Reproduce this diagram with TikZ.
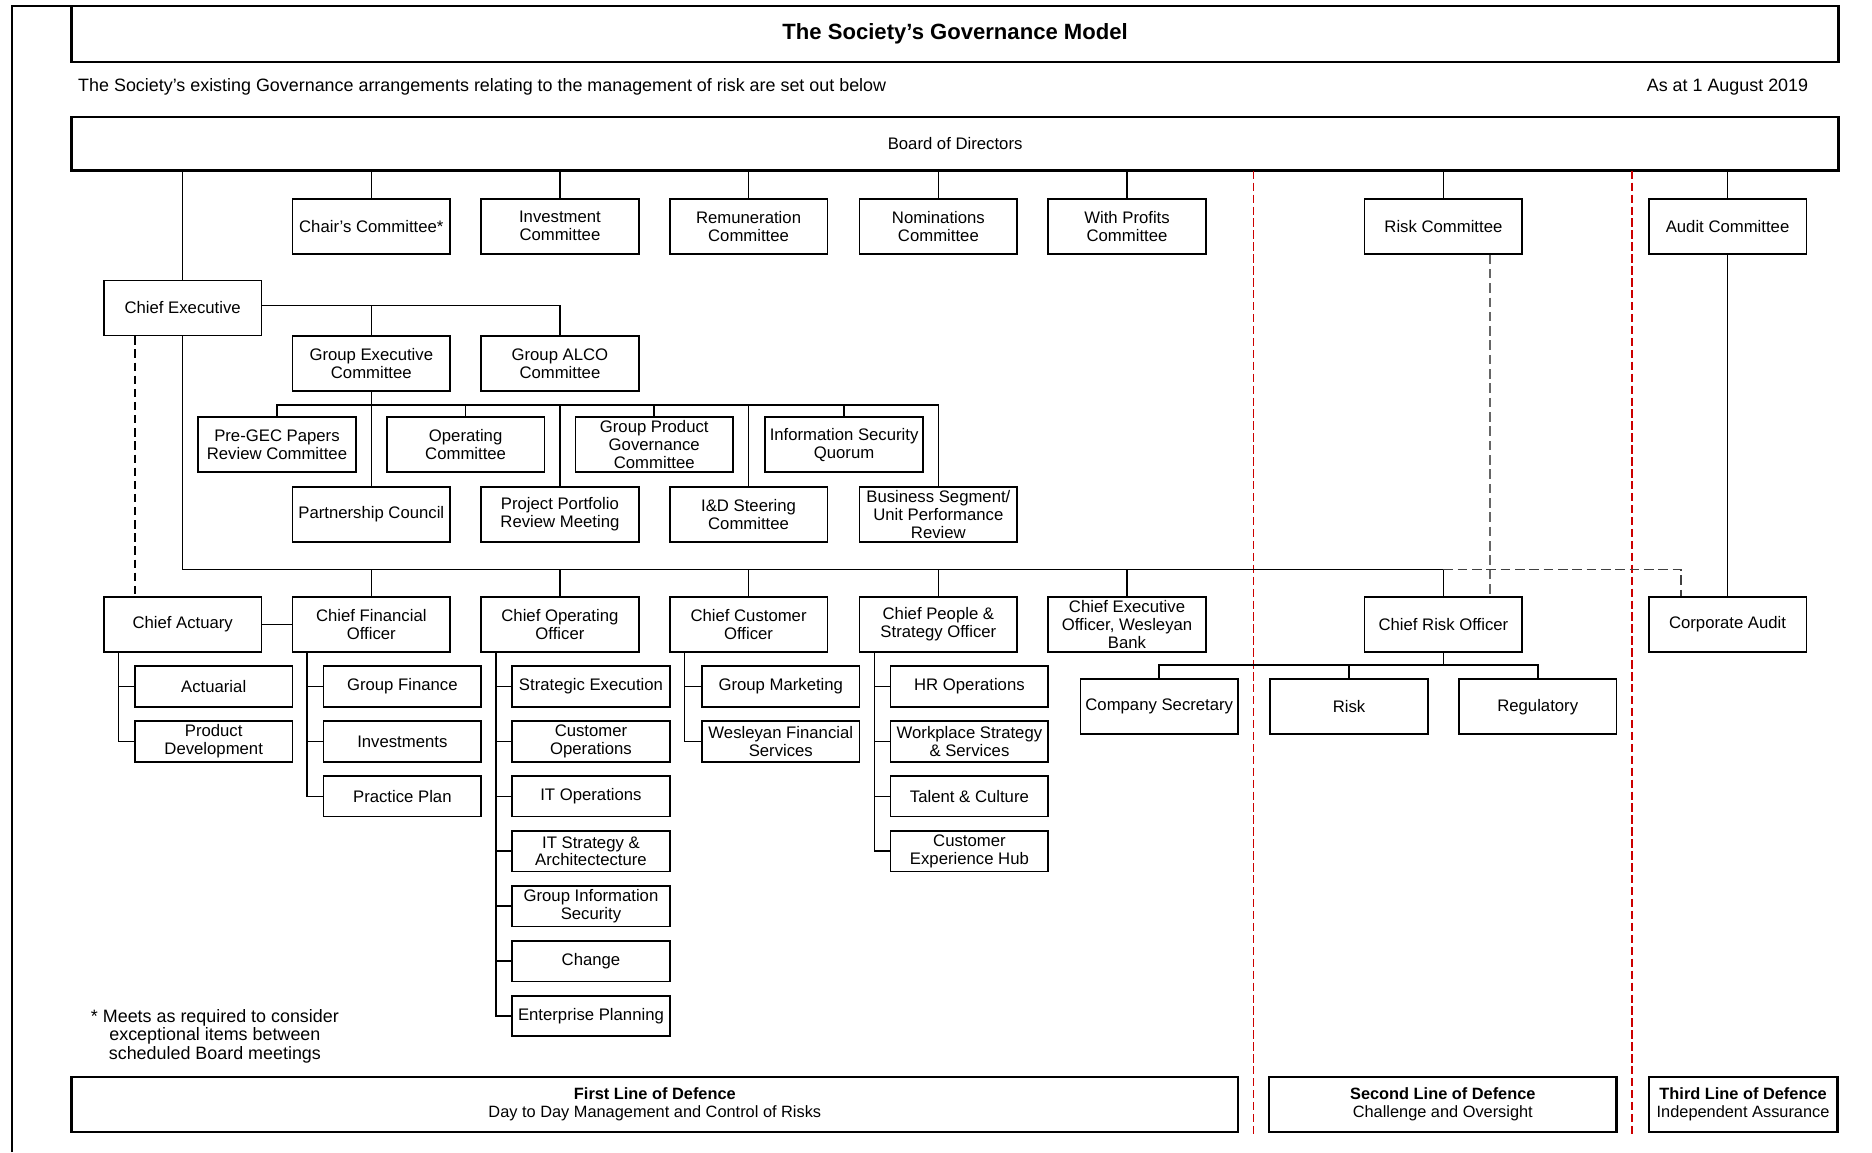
\documentclass[tikz,border=0pt]{standalone}
\usepackage{fontspec}
\setmainfont{Liberation Sans}
\newcommand{\boxfont}{\fontsize{14}{15}\selectfont}
\newcommand{\lodfont}{\fontsize{13.7}{15}\selectfont}
\newcommand{\notefont}{\fontsize{15}{15.5}\selectfont}
\newcommand{\headfont}{\fontsize{18.5}{20}\selectfont\bfseries}
\tikzset{
  unit/.style={draw, line width=1.4pt, minimum width=132pt, minimum height=46pt, inner sep=1pt, align=center, font=\boxfont},
  subunit/.style={unit, minimum height=34pt},
  banner/.style={draw, line width=2.2pt, minimum width=1480pt, inner sep=0pt, align=center},
  lodbox/.style={draw, line width=1.9pt, minimum height=46pt, inner sep=1pt, align=center, font=\lodfont},
  link/.style={line width=1.3pt},
  cedash/.style={line width=1.6pt, dash pattern=on 7pt off 4pt},
  riskdash/.style={line width=1.2pt, black!60, dash pattern=on 8pt off 4pt},
  auditdash/.style={line width=1.6pt, black!75, dash pattern=on 8pt off 4pt},
  lodline/.style={line width=1.2pt, red!80!black, dash pattern=on 7pt off 3pt}
}
\begin{document}
\begin{tikzpicture}[x=1pt,y=-1pt]
  \useasboundingbox (0,0) rectangle (1568,965);
  \draw[line width=1pt] (10,965) -- (10,5) -- (60,5);
  \node[banner, minimum height=47pt, font=\headfont] (title) at (800,28.5) {The Society's Governance Model};
  \node[anchor=west, font=\notefont] (intro) at (62,73) {The Society's existing Governance arrangements relating to the management of risk are set out below};
  \node[anchor=east, font=\notefont] (asat) at (1518,73) {As at 1 August 2019};
  \node[banner, minimum height=45pt, font=\boxfont] (board) at (800,120.5) {Board of Directors};

  \draw[lodline] (1050,143) -- (1050,952);
  \draw[lodline] (1367,143) -- (1367,952);

  \node[unit] (chair) at (311,189.5) {Chair's Committee*};
  \node[unit] (invest) at (469,189.5) {Investment\\Committee};
  \node[unit] (remun) at (627,189.5) {Remuneration\\Committee};
  \node[unit] (nomin) at (786,189.5) {Nominations\\Committee};
  \node[unit] (withprof) at (944,189.5) {With Profits\\Committee};
  \node[unit] (riskc) at (1209,189.5) {Risk Committee};
  \node[unit] (auditc) at (1447,189.5) {Audit Committee};
  \foreach \n in {chair,invest,remun,nomin,withprof,riskc,auditc}
    \draw[link] (board.south -| \n.north) -- (\n.north);

  \node[unit] (ceo) at (153,258) {Chief Executive};
  \draw[link] (board.south -| ceo.north) -- (ceo.north);
  \node[unit] (gec) at (311,304.5) {Group Executive\\Committee};
  \node[unit] (alco) at (469,304.5) {Group ALCO\\Committee};
  \draw[link] ([yshift=2pt]ceo.east) -| (gec.north);
  \draw[link] ([yshift=2pt]ceo.east) -| (alco.north);

  \coordinate (gbus) at (0,339);
  \node[unit] (pregec) at (232,372.5) {Pre-GEC Papers\\Review Committee};
  \node[unit] (opcom) at (390,372.5) {Operating\\Committee};
  \node[unit] (gpgc) at (548,372.5) {Group Product\\Governance\\Committee};
  \node[unit] (isq) at (707,372.5) {Information Security\\Quorum};
  \node[unit] (partner) at (311,431) {Partnership Council};
  \node[unit] (portfolio) at (469,431) {Project Portfolio\\Review Meeting};
  \node[unit] (idsteer) at (627,431) {I\&D Steering\\Committee};
  \node[unit] (bsupr) at (786,431) {Business Segment/\\Unit Performance\\Review};
  \draw[link] (gec.south) -- (partner.north);
  \draw[link] (pregec.north) |- (gbus -| bsupr.north) -- (bsupr.north);
  \foreach \n in {opcom,gpgc,isq,portfolio,idsteer}
    \draw[link] (gbus -| \n.north) -- (\n.north);

  \coordinate (obus) at (0,477);
  \node[unit] (actuary) at (153,523) {Chief Actuary};
  \node[unit] (cfo) at (311,523) {Chief Financial\\Officer};
  \node[unit] (coo) at (469,523) {Chief Operating\\Officer};
  \node[unit] (cco) at (627,523) {Chief Customer\\Officer};
  \node[unit] (cpso) at (786,523) {Chief People \&\\Strategy Officer};
  \node[unit] (ceowb) at (944,523) {Chief Executive\\Officer, Wesleyan\\Bank};
  \node[unit] (cro) at (1209,523) {Chief Risk Officer};
  \node[unit] (caudit) at (1447,523) {Corporate Audit};
  \draw[link] (ceo.south) -- (ceo.south |- obus) -- (obus -| cro.north) -- (cro.north);
  \foreach \n in {cfo,coo,cco,cpso,ceowb}
    \draw[link] (obus -| \n.north) -- (\n.north);
  \draw[link] (actuary.east) -- (cfo.west);
  \draw[cedash] ([xshift=-40pt]ceo.south) -- ([xshift=-40pt]actuary.north);
  \draw[link] (auditc.south) -- (caudit.north);
  \draw[riskdash] ([xshift=39pt]riskc.south) -- ([xshift=39pt]cro.north);
  \draw[auditdash] (obus -| cro.north) -| ([xshift=-39pt]caudit.north);

  \node[subunit] (actuarial) at (179,575) {Actuarial};
  \node[subunit] (proddev) at (179,621) {Product\\Development};
  \foreach \c in {actuarial,proddev}
    \draw[link] ([xshift=13pt]actuary.south west) |- (\c.west);

  \node[subunit] (gfin) at (337,575) {Group Finance};
  \node[subunit] (invests) at (337,621) {Investments};
  \node[subunit] (pplan) at (337,667) {Practice Plan};
  \foreach \c in {gfin,invests,pplan}
    \draw[link] ([xshift=13pt]cfo.south west) |- (\c.west);

  \node[subunit] (strat) at (495,575) {Strategic Execution};
  \node[subunit] (custops) at (495,621) {Customer\\Operations};
  \node[subunit] (itops) at (495,667) {IT Operations};
  \node[subunit] (itstrat) at (495,713) {IT Strategy \&\\Architectecture};
  \node[subunit] (ginfosec) at (495,759) {Group Information\\Security};
  \node[subunit] (change) at (495,805) {Change};
  \node[subunit] (entplan) at (495,851) {Enterprise Planning};
  \foreach \c in {strat,custops,itops,itstrat,ginfosec,change,entplan}
    \draw[link] ([xshift=13pt]coo.south west) |- (\c.west);

  \node[subunit] (gmkt) at (654,575) {Group Marketing};
  \node[subunit] (wfs) at (654,621) {Wesleyan Financial\\Services};
  \foreach \c in {gmkt,wfs}
    \draw[link] ([xshift=13pt]cco.south west) |- (\c.west);

  \node[subunit] (hrops) at (812,575) {HR Operations};
  \node[subunit] (workplace) at (812,621) {Workplace Strategy\\\& Services};
  \node[subunit] (talent) at (812,667) {Talent \& Culture};
  \node[subunit] (cxhub) at (812,713) {Customer\\Experience Hub};
  \foreach \c in {hrops,workplace,talent,cxhub}
    \draw[link] ([xshift=13pt]cpso.south west) |- (\c.west);

  \coordinate (rbus) at (0,557);
  \node[unit] (cosec) at (971,592) {Company Secretary};
  \node[unit] (risk) at (1130,592) {Risk};
  \node[unit] (regul) at (1288,592) {Regulatory};
  \draw[link] (cro.south) -- (cro.south |- rbus);
  \draw[link] (cosec.north) |- (rbus -| regul.north) -- (regul.north);
  \draw[link] (rbus -| risk.north) -- (risk.north);

  \node[align=center, font=\notefont] (note) at (180,868) {* Meets as required to consider\\exceptional items between\\scheduled Board meetings};

  \node[lodbox, minimum width=977pt] (lod1) at (548.5,925) {\textbf{First Line of Defence}\\Day to Day Management and Control of Risks};
  \node[lodbox, minimum width=291pt] (lod2) at (1208.5,925) {\textbf{Second Line of Defence}\\Challenge and Oversight};
  \node[lodbox, minimum width=158pt] (lod3) at (1460,925) {\textbf{Third Line of Defence}\\Independent Assurance};
\end{tikzpicture}
\end{document}
